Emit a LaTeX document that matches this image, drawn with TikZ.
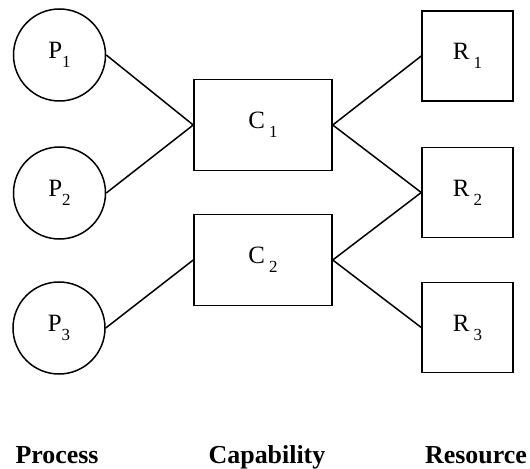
\documentclass[tikz,border=0pt]{standalone}
\usepackage{fontspec}
\setmainfont{Liberation Serif}
\usetikzlibrary{positioning}
\newcommand{\idx}[1]{\raisebox{-9bp}{\fontsize{17}{17}\selectfont #1}}

\begin{document}
\begin{tikzpicture}[x=1bp, y=-1bp, line width=1.5bp,
    proc/.style={draw, circle, minimum size=92bp, inner sep=0pt, font=\fontsize{25}{27}\selectfont},
    capbox/.style={draw, rectangle, minimum width=138bp, minimum height=91bp, inner sep=0pt, font=\fontsize{25}{27}\selectfont},
    resbox/.style={draw, rectangle, minimum width=91bp, minimum height=90bp, inner sep=0pt, font=\fontsize{25}{27}\selectfont},
    heading/.style={anchor=base, font=\bfseries\fontsize{26}{28}\selectfont}]
    \useasboundingbox (0,0) rectangle (530,469);

    % Processes
    \node[proc] (P1) at (59.5, 55) {P\idx{1}};
    \node[proc] (P2) at (59.5, 193) {P\idx{2}};
    \node[proc] (P3) at (59, 328) {P\idx{3}};

    % Capabilities
    \node[capbox] (C1) at (263, 125) {C\,\idx{1}};
    \node[capbox] (C2) at (263, 260) {C\,\idx{2}};

    % Resources
    \node[resbox] (R1) at (467.5, 56) {R\,\idx{1}};
    \node[resbox] (R2) at (467.5, 192.5) {R\,\idx{2}};
    \node[resbox] (R3) at (467.5, 327.5) {R\,\idx{3}};

    % Links
    \draw (P1.east) -- (C1.west);
    \draw (P2.east) -- (C1.west);
    \draw (P3.east) -- (C2.west);
    \draw (C1.east) -- (R1.west);
    \draw (C1.east) -- (R2.west);
    \draw (C2.east) -- (R2.west);
    \draw (C2.east) -- (R3.west);

    % Column headings
    \node[heading] (hp) at (57, 463) {Process};
    \node[heading] (hc) at (267, 463) {Capability};
    \node[heading] (hr) at (476, 463) {Resource};
\end{tikzpicture}
\end{document}
